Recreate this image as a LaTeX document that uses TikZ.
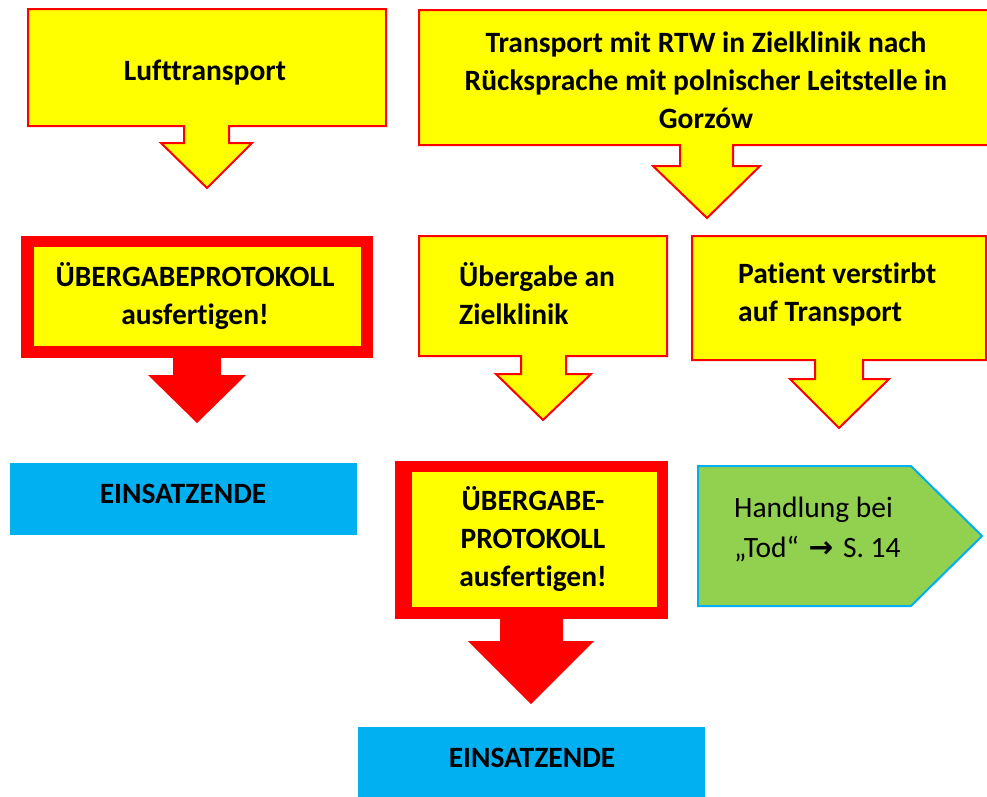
\documentclass[tikz,border=0pt]{standalone}
\usepackage{fontspec}
\setmainfont{Carlito}[Ligatures=NoCommon]
\newfontfamily\symfont{DejaVu Sans}
\definecolor{boxyellow}{HTML}{FFFF00}
\definecolor{boxred}{HTML}{FF0000}
\definecolor{endblue}{HTML}{00B0F0}
\definecolor{linkgreen}{HTML}{92D050}
\begin{document}
\begin{tikzpicture}[x=1pt,y=-1pt,
  callout/.style={fill=boxyellow, draw=boxred, line width=2pt, line join=miter},
  redframe/.style={fill=boxred},
  innerbox/.style={fill=boxyellow},
  endbox/.style={fill=endblue},
  linkbox/.style={fill=linkgreen, draw=endblue, line width=2pt, line join=miter},
  boldtext/.style={font={\fontsize{29.5}{38}\selectfont\bfseries},
    inner sep=0pt, anchor=base},
  plaintext/.style={font={\fontsize{29.5}{40}\selectfont},
    inner sep=0pt, anchor=base west, align=flush left, text width=240pt},
]
\useasboundingbox (0,0) rectangle (987,796);
\fill[white] (0,0) rectangle (987,796);

% --- top row: callouts with downward arrows
\draw[callout] (28,9) -- (386,9) -- (386,126) -- (229,126) -- (229,143) -- (252,143)
  -- (207,188) -- (161,143) -- (184,143) -- (184,126) -- (28,126) -- cycle;
\node[boldtext] (luft) at (205,80) {Lufttransport};

\draw[callout] (419,10) -- (995,10) -- (995,145) -- (733,145) -- (733,166) -- (760,166)
  -- (707,218) -- (653,166) -- (680,166) -- (680,145) -- (419,145) -- cycle;
\node[boldtext, text width=540pt, align=flush center] (rtw) at (706,52)
  {Transport mit RTW in Zielklinik nach\\Rücksprache mit polnischer Leitstelle in\\Gorzów};

% --- second row
\fill[redframe] (21,236) rectangle (373,358);
\fill[innerbox] (34,247) rectangle (361,346);
\fill[redframe] (173,356) -- (221,356) -- (221,375) -- (246,375) -- (197,423)
  -- (148,375) -- (173,375) -- cycle;
\node[boldtext, text width=340pt, align=flush center] (prot1) at (195,286)
  {ÜBERGABEPROTOKOLL\\ausfertigen!};

\draw[callout] (419,236) -- (667,236) -- (667,356) -- (566,356) -- (566,374) -- (591,374)
  -- (543,420) -- (496,374) -- (521,374) -- (521,356) -- (419,356) -- cycle;
\node[boldtext, anchor=base west, text width=200pt, align=flush left] (uebergabe) at (459,286)
  {Übergabe an\\Zielklinik};

\draw[callout] (692,236) -- (986,236) -- (986,360) -- (863,360) -- (863,379) -- (889,379)
  -- (839,428) -- (790,379) -- (815,379) -- (815,360) -- (692,360) -- cycle;
\node[boldtext, anchor=base west, text width=240pt, align=flush left] (patient) at (738,283)
  {Patient verstirbt\\auf Transport};

% --- third row
\fill[endbox] (10,463) rectangle (357,535);
\node[boldtext] (ende1) at (183,503) {EINSATZENDE};

\fill[redframe] (395,461) rectangle (668,619);
\fill[innerbox] (412,472) rectangle (657,607);
\fill[redframe] (500,617) -- (563,617) -- (563,641) -- (594,641) -- (531,704)
  -- (468,641) -- (500,641) -- cycle;
\node[boldtext, text width=240pt, align=flush center] (prot2) at (533,510)
  {ÜBERGABE-\\PROTOKOLL\\ausfertigen!};

\draw[linkbox] (698,466) -- (911,466) -- (982,536) -- (911,606) -- (698,606) -- cycle;
\node[plaintext] (tod) at (734,517)
  {Handlung bei\\„Tod“\hspace{3pt} {\symfont\bfseries →}\hspace{3pt} S.~14};

% --- bottom
\fill[endbox] (358,727) rectangle (705,800);
\node[boldtext] (ende2) at (532,767) {EINSATZENDE};
\end{tikzpicture}
\end{document}
